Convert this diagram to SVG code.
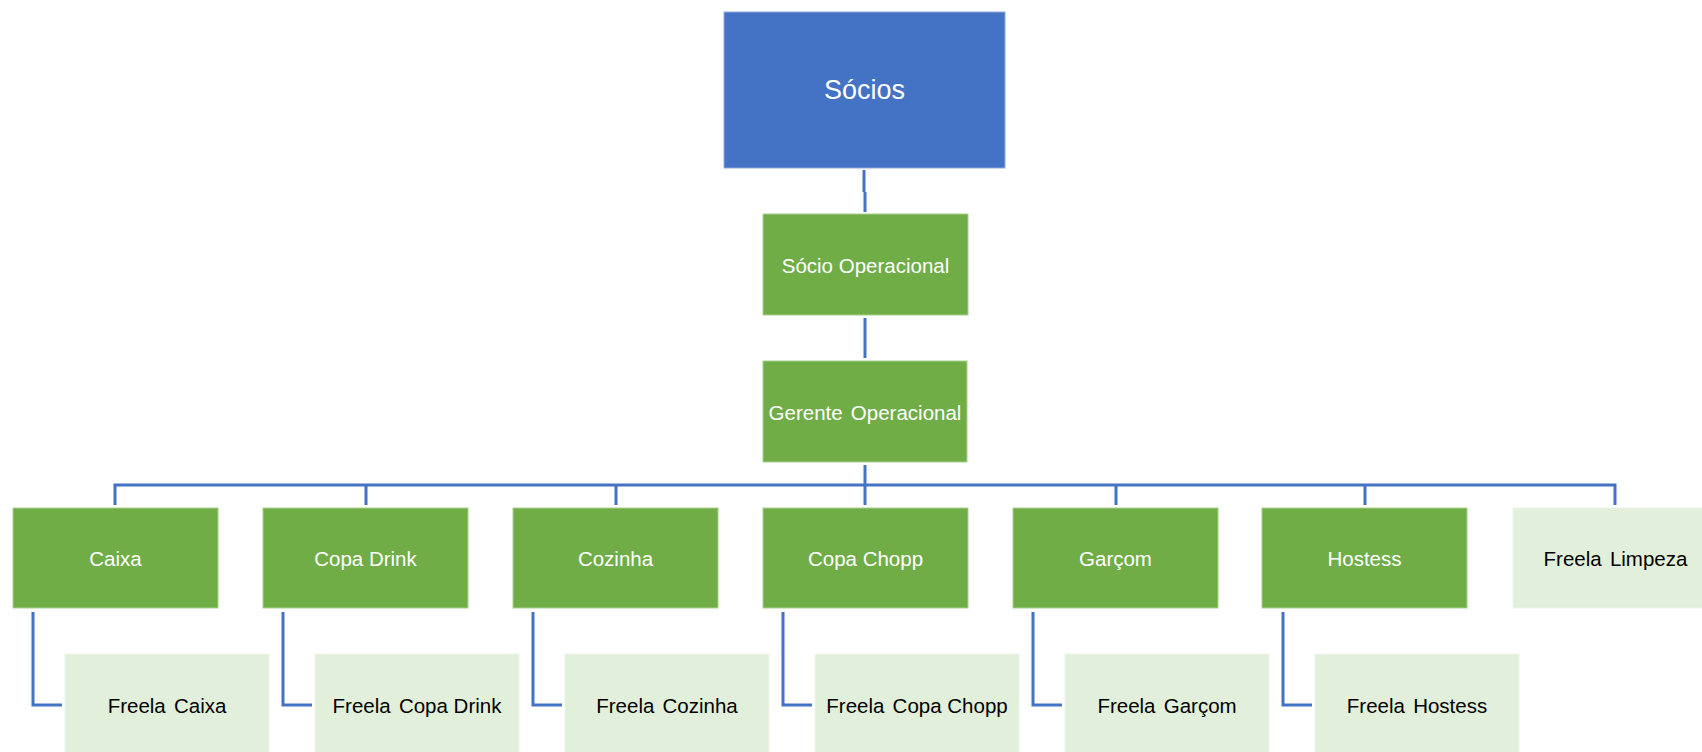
<svg xmlns="http://www.w3.org/2000/svg" width="1702" height="752" viewBox="0 0 1702 752">
<style>
.blue{fill:#4472C4;stroke:#8FAADC;stroke-width:1}
.green{fill:#70AD47;stroke:#A9D18E;stroke-width:1}
.light{fill:#E2EFDA;stroke:#EEF5E9;stroke-width:1}
.wt{fill:#FFFFFF;font-family:"Liberation Sans",Arial,sans-serif;font-size:20.5px;text-anchor:middle;dominant-baseline:central}
.bt{fill:#000000;font-family:"Liberation Sans",Arial,sans-serif;font-size:20.5px;text-anchor:middle;dominant-baseline:central}
.big{font-size:27px}
.ln{fill:none;stroke:#4472C4;stroke-width:3}
</style>
<rect width="1702" height="752" fill="#FFFFFF"/>
<g id="connectors">
<path class="ln" d="M864 170 V192 M865 192 V212"/>
<path class="ln" d="M865 318 V358"/>
<path class="ln" d="M865 465 V505"/>
<path class="ln" d="M115 505 V485 H1615 V505"/>
<path class="ln" d="M366 485 V505 M616 485 V505 M1116 485 V505 M1365 485 V505"/>
<path class="ln" d="M33 612 V705 H62"/>
<path class="ln" d="M283 612 V705 H312"/>
<path class="ln" d="M533 612 V705 H562"/>
<path class="ln" d="M783 612 V705 H812"/>
<path class="ln" d="M1033 612 V705 H1062"/>
<path class="ln" d="M1283 612 V705 H1312"/>
</g>
<g id="socios"><rect class="blue" x="724" y="12" width="281" height="156"/><text class="wt big" x="864.5" y="90">Sócios</text></g>
<g id="socio-operacional"><rect class="green" x="763" y="214" width="205" height="101"/><text class="wt" x="865.5" y="265">Sócio Operacional</text></g>
<g id="gerente-operacional"><rect class="green" x="763" y="361" width="204" height="101"/><text class="wt" x="865" y="412">Gerente <tspan dx="2.5">Operacional</tspan></text></g>
<g id="caixa"><rect class="green" x="13" y="508" width="205" height="100"/><text class="wt" x="115.5" y="558">Caixa</text></g>
<g id="copa-drink"><rect class="green" x="263" y="508" width="205" height="100"/><text class="wt" x="365.5" y="558">Copa Drink</text></g>
<g id="cozinha"><rect class="green" x="513" y="508" width="205" height="100"/><text class="wt" x="615.5" y="558">Cozinha</text></g>
<g id="copa-chopp"><rect class="green" x="763" y="508" width="205" height="100"/><text class="wt" x="865.5" y="558">Copa Chopp</text></g>
<g id="garcom"><rect class="green" x="1013" y="508" width="205" height="100"/><text class="wt" x="1115.5" y="558">Garçom</text></g>
<g id="hostess"><rect class="green" x="1262" y="508" width="205" height="100"/><text class="wt" x="1364.5" y="558">Hostess</text></g>
<g id="freela-limpeza"><rect class="light" x="1513" y="508" width="205" height="100"/><text class="bt" x="1615.5" y="558">Freela <tspan dx="2.5">Limpeza</tspan></text></g>
<g id="freela-caixa"><rect class="light" x="65" y="654" width="204" height="102"/><text class="bt" x="167" y="705">Freela <tspan dx="2.5">Caixa</tspan></text></g>
<g id="freela-copa-drink"><rect class="light" x="315" y="654" width="204" height="102"/><text class="bt" x="417" y="705">Freela <tspan dx="2.5">Copa Drink</tspan></text></g>
<g id="freela-cozinha"><rect class="light" x="565" y="654" width="204" height="102"/><text class="bt" x="667" y="705">Freela <tspan dx="2.5">Cozinha</tspan></text></g>
<g id="freela-copa-chopp"><rect class="light" x="815" y="654" width="204" height="102"/><text class="bt" x="917" y="705">Freela <tspan dx="2.5">Copa Chopp</tspan></text></g>
<g id="freela-garcom"><rect class="light" x="1065" y="654" width="204" height="102"/><text class="bt" x="1167" y="705">Freela <tspan dx="2.5">Garçom</tspan></text></g>
<g id="freela-hostess"><rect class="light" x="1315" y="654" width="204" height="102"/><text class="bt" x="1417" y="705">Freela <tspan dx="2.5">Hostess</tspan></text></g>
</svg>
